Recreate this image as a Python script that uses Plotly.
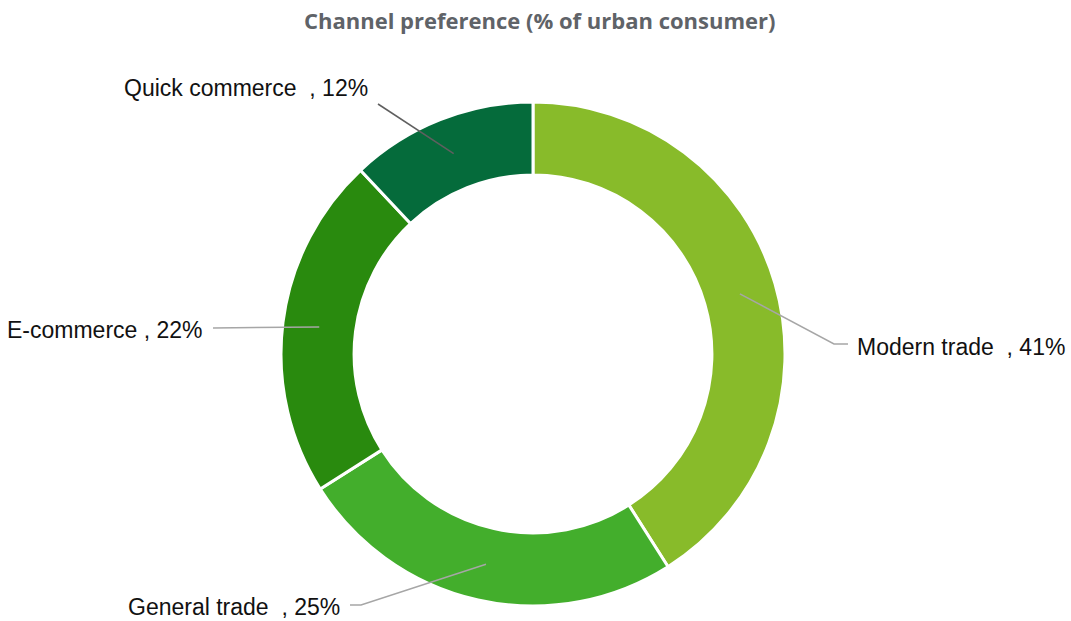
import math
import plotly.graph_objects as go

# Channel shares (% of urban consumers)
channels = ["Modern trade  ", "General trade  ", "E-commerce ", "Quick commerce  "]
shares = [41, 25, 22, 12]
colors = ["#88bb2a", "#43ae2c", "#298a0e", "#056b3b"]

W, H = 1071, 621
cx, cy = 533, 354          # donut centre (px)
r_out = 252                # outer radius (px)
hole = 0.71
r_mid = r_out * (1 + hole) / 2

fig = go.Figure(go.Pie(
    labels=channels,
    values=shares,
    sort=False,
    direction="clockwise",
    rotation=0,
    hole=hole,
    marker=dict(colors=colors, line=dict(color="white", width=3)),
    textinfo="none",
    showlegend=False,
    domain=dict(x=[(cx - r_out) / W, (cx + r_out) / W],
                y=[(H - cy - r_out) / H, (H - cy + r_out) / H]),
))

# label layout: elbow point, end of leader, text anchor side, line colour
label_layout = [
    dict(elbow=(834, 344), end=(848, 344), side="left", text_y=347, line="#a6a6a6"),
    dict(elbow=(361, 605), end=(350, 605), side="right", text_y=607, line="#a6a6a6"),
    dict(elbow=(213, 328), end=(213, 328), side="right", text_y=330, line="#a6a6a6"),
    dict(elbow=(378, 104), end=(378, 104), side="right", text_y=88, line="#5f5f5f"),
]


def px_to_paper(x, y):
    return x / W, 1 - y / H


shapes = []
annotations = []
total = sum(shares)
cum = 0
for name, val, lay in zip(channels, shares, label_layout):
    mid = (cum + val / 2) / total * 2 * math.pi
    cum += val
    ax = cx + r_mid * math.sin(mid)
    ay = cy - r_mid * math.cos(mid)
    pts = [(ax, ay), lay["elbow"], lay["end"]]
    path = "M " + " L ".join(
        f"{px_to_paper(x, y)[0]:.5f},{px_to_paper(x, y)[1]:.5f}" for x, y in pts)
    shapes.append(dict(type="path", path=path, xref="paper", yref="paper",
                       line=dict(color=lay["line"], width=1.5)))
    ex, _ = lay["end"]
    tx = ex + 7 if lay["side"] == "left" else ex - 8
    annotations.append(dict(
        x=tx / W, y=1 - lay["text_y"] / H, xref="paper", yref="paper",
        text=f"{name}, {val}%", showarrow=False,
        xanchor=lay["side"], yanchor="middle",
        font=dict(family="Liberation Sans, Arial, sans-serif", size=23, color="#111111"),
    ))

annotations.append(dict(
    x=540 / W, y=1 - 20 / H, xref="paper", yref="paper",
    text="<b>Channel preference (% of urban consumer)</b>", showarrow=False,
    xanchor="center", yanchor="middle",
    font=dict(family="Open Sans, sans-serif", size=22, color="#5f6368"),
))

fig.update_layout(
    width=W, height=H,
    margin=dict(l=0, r=0, t=0, b=0),
    paper_bgcolor="white",
    plot_bgcolor="white",
    shapes=shapes,
    annotations=annotations,
)

fig.write_html("out.html", config={"displayModeBar": False})
